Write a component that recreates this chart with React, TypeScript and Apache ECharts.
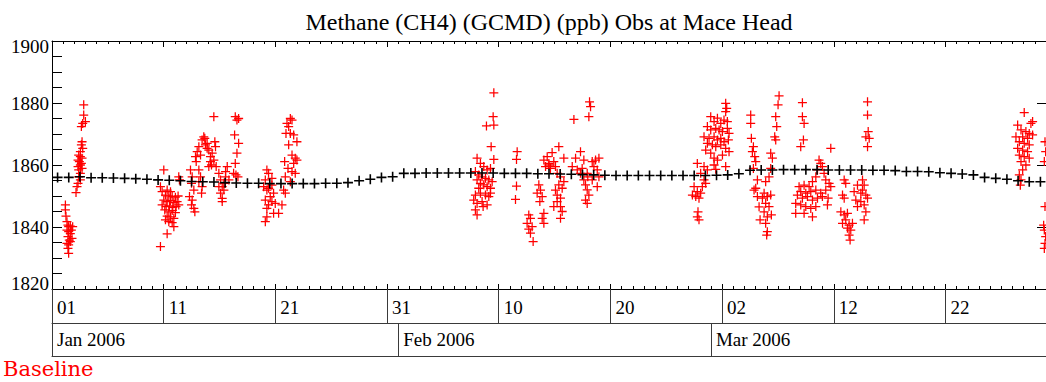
import React, { useEffect, useRef } from 'react';
import * as echarts from 'echarts';

// ---- text ----
const TITLE = 'Methane (CH4) (GCMD) (ppb) Obs at Mace Head';
const SERIES_LABEL = 'Baseline';
const MONTH_NAMES = ['Jan', 'Feb', 'Mar', 'Apr', 'May', 'Jun', 'Jul', 'Aug', 'Sep', 'Oct', 'Nov', 'Dec'];

// ---- axes (x in days since 2006-01-01 00:00 UTC) ----
const START_UTC = Date.UTC(2006, 0, 1);
const DAY_MS = 86400000;
const X_MIN_DAY = 0;
const X_MAX_DAY = 89;
const dayTicks = [0, 10, 20, 30, 40, 50, 60, 70, 80];
const monthStarts = [0, 31, 59];
const Y_MIN = 1820;
const Y_MAX = 1900;
const Y_STEP = 20;

// ---- daily baseline (ppb), one value per day, plotted at noon ----
const baselineDaily = [
  1856.0, 1856.0, 1856.2, 1855.9, 1855.9, 1855.8, 1855.7, 1855.6, 1855.4, 1855.2,
  1855.1, 1854.9, 1854.7, 1854.6, 1854.5, 1854.3, 1854.2, 1854.1, 1854.1, 1854.0,
  1854.0, 1854.0, 1854.0, 1854.0, 1854.1, 1854.1, 1854.3, 1854.9, 1855.4, 1856.0,
  1856.2, 1857.3, 1857.3, 1857.4, 1857.4, 1857.4, 1857.4, 1857.4, 1857.4, 1857.4,
  1857.3, 1857.3, 1857.3, 1857.2, 1857.2, 1857.1, 1857.0, 1856.9, 1856.8, 1856.7,
  1856.6, 1856.6, 1856.6, 1856.6, 1856.6, 1856.6, 1856.6, 1856.6, 1856.6, 1856.7,
  1856.8, 1857.2, 1858.3, 1858.4, 1858.4, 1858.5, 1858.5, 1858.5, 1858.5, 1858.4,
  1858.4, 1858.4, 1858.4, 1858.3, 1858.3, 1858.2, 1857.9, 1857.9, 1857.8, 1857.5,
  1857.3, 1857.1, 1856.8, 1856.0, 1855.7, 1855.4, 1854.9, 1854.6, 1854.6,
];

// ---- in-situ observations [day, ppb], grouped by pollution episode ----
const obsJan01 = [
  [1.20, 1847.1], [1.20, 1845.5], [1.25, 1843.5], [1.34, 1841.7], [1.43, 1840.6], [1.49, 1840.1],
  [1.64, 1840.3], [1.34, 1839.0], [1.49, 1838.5], [1.64, 1837.9], [1.73, 1839.0], [1.43, 1836.9],
  [1.55, 1835.8], [1.64, 1835.3], [1.34, 1834.7], [1.49, 1834.2], [1.43, 1833.1], [1.49, 1831.5],
  [1.79, 1836.3], [1.85, 1840.1],
];
const obsJan03 = [
  [2.84, 1879.4], [2.84, 1876.1], [2.99, 1874.0], [2.75, 1873.4], [2.63, 1872.4], [2.69, 1867.5],
  [2.63, 1866.5], [2.75, 1865.4], [2.54, 1864.3], [2.39, 1863.2], [2.54, 1862.7], [2.69, 1862.2],
  [2.33, 1861.6], [2.45, 1861.1], [2.63, 1860.5], [2.54, 1860.0], [2.33, 1859.5], [2.69, 1858.9],
  [2.39, 1858.4], [2.54, 1857.3], [2.39, 1856.2], [2.54, 1855.2], [2.33, 1854.1], [2.24, 1853.0],
  [2.15, 1851.1],
];
const obsJan10 = [
  [10.01, 1858.4], [9.71, 1853.0], [9.86, 1851.4], [10.31, 1851.9], [10.61, 1851.4], [10.16, 1850.3],
  [10.46, 1850.0], [10.76, 1849.8], [11.05, 1849.6], [11.29, 1850.0], [10.01, 1848.7], [10.31, 1848.2],
  [10.61, 1848.5], [10.91, 1847.9], [11.20, 1848.2], [9.86, 1847.1], [10.22, 1846.6], [10.52, 1846.8],
  [10.82, 1846.3], [11.11, 1846.6], [11.35, 1847.1], [10.10, 1845.5], [10.46, 1844.9], [10.76, 1845.3],
  [11.05, 1844.6], [10.31, 1843.5], [10.61, 1843.3], [10.91, 1842.8], [10.16, 1842.3], [10.46, 1841.7],
  [10.76, 1841.4], [10.91, 1840.1], [10.31, 1837.8], [9.71, 1833.7], [11.35, 1856.2], [11.41, 1855.2],
];
const obsJan12 = [
  [12.40, 1858.4], [12.55, 1856.2], [12.49, 1854.1], [12.70, 1851.9], [12.31, 1849.8], [12.55, 1848.7],
  [12.49, 1847.1], [12.70, 1846.0], [12.79, 1844.9], [12.85, 1862.7], [13.00, 1864.3], [12.91, 1861.1],
  [13.15, 1858.4], [13.30, 1856.2], [13.15, 1854.6], [13.44, 1853.0], [13.39, 1850.9], [13.59, 1869.1],
  [13.44, 1868.1], [13.68, 1868.6], [13.74, 1866.5], [13.15, 1865.9], [13.30, 1863.2],
  [13.89, 1867.0], [14.04, 1864.8], [14.19, 1862.7], [14.34, 1863.8], [14.49, 1861.6], [14.58, 1867.5],
  [14.28, 1860.0], [14.04, 1859.5], [14.64, 1865.9], [14.70, 1859.5], [14.49, 1875.6], [13.89, 1865.4],
  [14.19, 1861.1],
  [14.94, 1857.3], [15.09, 1855.2], [15.24, 1853.0], [15.39, 1851.9], [15.09, 1850.9], [15.24, 1849.2],
  [15.54, 1856.2], [15.69, 1859.5], [15.54, 1857.9], [15.39, 1854.1], [15.84, 1855.2], [15.24, 1848.2],
  [14.94, 1853.0],
];
const obsJan17 = [
  [16.41, 1875.6], [16.71, 1875.0], [16.56, 1874.5], [16.35, 1869.7], [16.71, 1867.0], [16.56, 1863.8],
  [16.41, 1860.5], [16.47, 1856.8], [16.65, 1856.2], [16.26, 1857.3],
];
const obsJan19 = [
  [19.24, 1858.4], [19.39, 1857.3], [19.10, 1855.2], [19.69, 1855.7], [18.95, 1853.0], [19.39, 1852.5],
  [19.24, 1851.9], [19.84, 1850.9], [19.54, 1849.8], [19.10, 1848.7], [19.69, 1848.2], [19.39, 1847.1],
  [19.24, 1846.0], [19.99, 1847.6], [20.59, 1847.1], [20.29, 1844.4], [19.84, 1844.4], [19.24, 1843.3],
  [19.10, 1841.7], [20.89, 1850.9], [19.69, 1853.5],
  [21.34, 1875.0], [21.49, 1874.5], [21.04, 1873.4], [21.19, 1872.4], [20.95, 1870.2], [21.34, 1870.2],
  [21.64, 1869.7], [21.93, 1867.5], [21.19, 1866.5], [21.49, 1863.2], [21.78, 1862.2], [21.64, 1860.5],
  [21.93, 1861.6], [20.83, 1861.1], [21.13, 1858.9], [21.49, 1857.9], [21.78, 1857.3], [20.89, 1856.2],
  [21.34, 1854.6], [20.74, 1851.9],
];
const obsFeb07 = [
  [39.56, 1883.3], [39.50, 1875.6], [38.90, 1872.6], [39.56, 1872.9], [39.32, 1865.9], [39.56, 1861.8],
  [38.06, 1862.2], [38.36, 1860.5], [38.66, 1859.5], [38.96, 1858.4], [39.26, 1858.9], [37.91, 1857.9],
  [38.21, 1856.8], [38.51, 1856.2], [38.81, 1855.7], [39.11, 1855.2], [39.41, 1854.6], [38.06, 1855.2],
  [38.36, 1854.1], [38.66, 1853.6], [38.96, 1853.0], [39.26, 1852.5], [38.21, 1852.5], [37.91, 1850.3],
  [38.36, 1850.9], [38.81, 1850.3], [39.11, 1849.8], [37.76, 1848.7], [38.06, 1847.6], [38.51, 1848.2],
  [38.96, 1847.1], [37.91, 1845.5], [38.06, 1843.9], [38.60, 1846.6], [39.26, 1850.9],
];
const obsFeb10 = [
  [41.65, 1864.3], [41.59, 1861.8], [41.59, 1853.2], [41.50, 1848.9],
  [42.69, 1843.9], [42.84, 1842.8], [42.54, 1841.2], [42.99, 1840.1], [42.69, 1839.3], [42.84, 1838.0],
  [43.08, 1835.3], [44.04, 1844.4], [43.89, 1842.8], [44.04, 1841.2], [43.59, 1853.6], [43.74, 1851.9],
  [43.89, 1849.8], [43.68, 1848.2], [43.44, 1850.9],
];
const obsFeb13 = [
  [45.38, 1865.9], [44.78, 1864.0], [44.34, 1862.7], [44.04, 1861.6], [44.49, 1860.5], [44.93, 1861.1],
  [44.19, 1859.5], [44.63, 1858.9], [45.08, 1859.5], [45.83, 1862.2], [45.23, 1857.3], [45.53, 1856.2],
  [45.83, 1854.6], [45.38, 1853.6], [45.08, 1851.9], [45.68, 1852.5], [45.23, 1850.3], [45.53, 1849.3],
  [45.23, 1848.2], [44.93, 1846.6], [45.53, 1846.6], [45.68, 1845.0], [45.53, 1842.8], [44.49, 1860.0],
  [46.73, 1874.7], [48.13, 1880.4], [48.22, 1878.8], [48.07, 1875.6], [47.32, 1864.3], [47.62, 1861.6],
  [46.88, 1862.2], [46.58, 1859.5], [47.03, 1858.4], [47.47, 1858.9], [47.92, 1857.3], [48.37, 1861.1],
  [48.67, 1861.6], [48.97, 1862.2], [48.52, 1859.5], [48.82, 1858.4], [47.97, 1856.2], [48.37, 1855.2],
  [47.62, 1855.2], [47.77, 1853.6], [47.92, 1852.0], [48.07, 1850.3], [47.77, 1848.7], [47.92, 1847.6],
  [48.82, 1853.0], [47.32, 1857.3], [48.97, 1856.2],
];
const obsFeb26 = [
  [57.49, 1853.0], [57.78, 1851.4], [57.34, 1850.3], [57.64, 1849.8], [58.08, 1850.9], [57.93, 1849.3],
  [58.38, 1855.2], [58.23, 1853.0], [58.53, 1854.1], [58.08, 1857.3], [58.38, 1859.5], [57.78, 1860.5],
  [58.68, 1858.4], [57.84, 1844.9], [57.78, 1843.3], [57.93, 1842.3],
  [60.32, 1879.9], [60.41, 1878.3], [60.32, 1877.2], [58.98, 1875.6], [59.28, 1874.0], [59.58, 1875.1],
  [59.88, 1873.4], [60.17, 1874.5], [60.47, 1874.0], [58.68, 1872.4], [58.98, 1871.3], [59.43, 1871.8],
  [59.73, 1871.3], [60.03, 1870.8], [60.47, 1871.8], [60.62, 1870.2], [58.38, 1869.1], [58.83, 1868.6],
  [59.28, 1869.1], [59.58, 1868.1], [59.88, 1868.6], [60.17, 1867.5], [60.56, 1868.1], [58.68, 1867.0],
  [59.13, 1866.5], [59.43, 1865.9], [59.88, 1866.5], [60.32, 1865.4], [60.62, 1864.3], [58.53, 1864.8],
  [58.98, 1863.8], [59.28, 1862.2], [59.58, 1861.6], [60.03, 1863.2], [59.28, 1860.0], [60.32, 1859.5],
  [59.43, 1858.6],
];
const obsMar03 = [
  [62.56, 1876.1], [62.56, 1873.4], [62.62, 1868.6], [62.80, 1865.9], [62.71, 1864.3], [62.92, 1862.7],
  [63.01, 1861.1], [62.80, 1858.9], [62.86, 1851.9], [63.16, 1849.8], [63.31, 1846.5], [63.40, 1842.3],
  [65.10, 1882.3], [65.01, 1879.4], [64.80, 1875.6], [64.89, 1872.4], [64.71, 1869.1], [64.80, 1868.1],
  [64.35, 1863.8], [64.50, 1862.2], [64.35, 1858.9], [64.20, 1856.2], [63.90, 1854.6], [63.76, 1850.9],
  [64.05, 1849.8], [63.61, 1849.3], [64.35, 1850.3], [63.90, 1847.6], [64.20, 1846.6], [63.76, 1844.9],
  [64.05, 1843.3], [64.41, 1843.9], [63.90, 1841.2], [64.05, 1838.5], [63.99, 1837.4], [63.01, 1852.5],
  [63.16, 1855.2],
];
const obsMar06 = [
  [67.19, 1880.1], [67.19, 1875.6], [67.34, 1873.4], [67.28, 1868.1], [67.04, 1865.9],
  [68.68, 1861.6], [68.83, 1860.5], [68.98, 1859.5], [68.54, 1858.4], [69.13, 1857.3], [68.39, 1856.2],
  [69.28, 1855.2], [69.58, 1854.1], [68.09, 1854.6], [67.79, 1853.0], [67.34, 1853.5], [66.89, 1853.0],
  [67.04, 1851.4], [67.49, 1850.9], [67.94, 1851.4], [68.39, 1851.9], [68.83, 1850.9], [69.28, 1851.9],
  [69.73, 1853.0], [66.74, 1850.3], [67.19, 1849.3], [67.64, 1849.8], [68.09, 1848.7], [68.54, 1849.3],
  [68.98, 1849.8], [69.49, 1849.3], [66.59, 1847.6], [67.04, 1847.1], [67.49, 1846.6], [67.94, 1846.0],
  [68.39, 1846.6], [69.43, 1847.1], [66.59, 1844.4], [67.34, 1844.4], [68.09, 1843.3], [69.73, 1865.4],
];
const obsMar10 = [
  [70.93, 1855.2], [71.07, 1854.1], [70.78, 1850.3], [70.93, 1849.3], [70.63, 1844.9], [70.93, 1843.9],
  [71.22, 1844.4], [71.07, 1842.3], [70.78, 1841.2], [71.37, 1840.6], [71.22, 1839.6], [71.52, 1839.0],
  [71.37, 1837.4], [71.46, 1835.8], [71.67, 1841.2],
  [73.02, 1880.4], [73.02, 1876.1], [73.08, 1870.8], [72.87, 1869.1], [73.17, 1868.6], [73.02, 1865.9],
  [72.57, 1855.2], [72.72, 1853.5], [72.12, 1853.5], [71.82, 1851.4], [72.42, 1850.9], [72.87, 1850.3],
  [71.97, 1848.7], [72.42, 1848.2], [72.72, 1847.1], [72.12, 1846.6], [72.87, 1844.9], [72.72, 1842.3],
  [73.02, 1849.3], [72.57, 1851.9],
];
const obsMar27 = [
  [87.05, 1876.9], [87.80, 1874.0], [87.65, 1873.4], [86.46, 1872.9], [86.76, 1871.3], [87.20, 1870.8],
  [87.50, 1870.2], [86.31, 1869.1], [86.91, 1869.1], [87.35, 1868.6], [87.80, 1869.7], [86.61, 1867.5],
  [87.05, 1867.0], [87.50, 1866.5], [86.46, 1865.4], [86.91, 1864.8], [87.35, 1864.3], [86.61, 1863.2],
  [87.05, 1862.7], [87.50, 1862.2], [86.76, 1861.1], [87.20, 1860.0], [86.91, 1858.4], [86.61, 1856.8],
  [86.76, 1855.2], [86.70, 1853.5],
  [88.91, 1867.5], [88.97, 1864.3], [88.85, 1861.1], [88.91, 1846.6], [88.79, 1840.6], [88.85, 1839.0],
  [88.97, 1836.9], [88.91, 1834.7], [88.85, 1833.1],
];

// ---- styling ----
const SERIF = '"Liberation Serif", "Times New Roman", serif';
const LABEL_SERIF = '"DejaVu Serif", serif';
const INK = '#000000';
const BOX = '#3a3a3a';
const OBS_RED = '#ff0000';
const PLUS_THIN = 'path://M0,4.3H10V5.7H0ZM4.3,0H5.7V10H4.3Z';
const PLUS_BOLD = 'path://M0,4.2H10V5.8H0ZM4.2,0H5.8V10H4.2Z';

const dayToDate = (d: number) => new Date(START_UTC + d * DAY_MS);
const dayLabel = (d: number) => String(dayToDate(d).getUTCDate()).padStart(2, '0');
const monthLabel = (d: number) => {
  const dt = dayToDate(d);
  return `${MONTH_NAMES[dt.getUTCMonth()]} ${dt.getUTCFullYear()}`;
};

const hiddenLabel = { show: false };
const noSplit = { show: false };

function buildOption(): echarts.EChartsOption {
  const observations = [
    ...obsJan01, ...obsJan03, ...obsJan10, ...obsJan12, ...obsJan17, ...obsJan19,
    ...obsFeb07, ...obsFeb10, ...obsFeb13, ...obsFeb26,
    ...obsMar03, ...obsMar06, ...obsMar10, ...obsMar27,
  ];
  const baseline = baselineDaily.map((v, i) => [i + 0.5, v]);

  const xBase = {
    type: 'value' as const,
    min: X_MIN_DAY,
    max: X_MAX_DAY,
    splitLine: noSplit,
  };

  return {
    animation: false,
    backgroundColor: '#ffffff',
    grid: { left: 52, right: 0, top: 41, bottom: 93, outerBoundsMode: 'none' } as any,
    xAxis: [
      // main bottom axis: line + daily minor ticks pointing in
      {
        ...xBase, position: 'bottom', interval: 1,
        axisLine: { show: true, onZero: false, lineStyle: { color: INK, width: 1 } },
        axisTick: { show: true, inside: true, length: 3, lineStyle: { color: INK, width: 1 } },
        axisLabel: hiddenLabel,
      },
      // 10-day dividers down through the day row, with day-of-month labels
      {
        ...xBase, position: 'bottom',
        axisLine: { show: false, onZero: false },
        axisTick: { show: true, inside: false, length: 34, customValues: dayTicks, lineStyle: { color: BOX, width: 1 } },
        axisLabel: {
          show: true, customValues: dayTicks, formatter: (v: number) => dayLabel(v),
          align: 'left', verticalAlign: 'top', margin: 9, padding: [0, 0, 0, 5],
          color: INK, fontFamily: SERIF, fontSize: 19,
        },
      },
      // 10-day major ticks poking into the plot
      {
        ...xBase, position: 'bottom',
        axisLine: { show: false, onZero: false },
        axisTick: { show: true, inside: true, length: 5, customValues: dayTicks, lineStyle: { color: INK, width: 1 } },
        axisLabel: hiddenLabel,
      },
      // month row
      {
        ...xBase, position: 'bottom', offset: 34,
        axisLine: { show: true, onZero: false, lineStyle: { color: BOX, width: 1 } },
        axisTick: { show: true, inside: false, length: 33, customValues: monthStarts, lineStyle: { color: BOX, width: 1 } },
        axisLabel: {
          show: true, customValues: monthStarts, formatter: (v: number) => monthLabel(v),
          align: 'left', verticalAlign: 'top', margin: 7, padding: [0, 0, 0, 5],
          color: INK, fontFamily: SERIF, fontSize: 19,
        },
      },
      // bottom rule of the month row
      {
        ...xBase, position: 'bottom', offset: 67,
        axisLine: { show: true, onZero: false, lineStyle: { color: BOX, width: 1 } },
        axisTick: { show: false },
        axisLabel: hiddenLabel,
      },
      // top frame with daily ticks
      {
        ...xBase, position: 'top', interval: 1,
        axisLine: { show: true, onZero: false, lineStyle: { color: INK, width: 1 } },
        axisTick: { show: true, inside: true, length: 3, lineStyle: { color: INK, width: 1 } },
        axisLabel: hiddenLabel,
      },
      {
        ...xBase, position: 'top',
        axisLine: { show: false, onZero: false },
        axisTick: { show: true, inside: true, length: 6, customValues: dayTicks, lineStyle: { color: INK, width: 1 } },
        axisLabel: hiddenLabel,
      },
    ],
    yAxis: [
      {
        type: 'value', position: 'left', min: Y_MIN, max: Y_MAX, interval: Y_STEP,
        axisLine: { show: true, onZero: false, lineStyle: { color: INK, width: 1 } },
        axisTick: { show: true, inside: true, length: 10, lineStyle: { color: INK, width: 1 } },
        minorTick: { show: true, splitNumber: 4, length: 10, lineStyle: { color: INK, width: 1 } },
        splitLine: noSplit,
        axisLabel: {
          show: true, margin: 3, color: INK, fontFamily: SERIF, fontSize: 19,
          formatter: (v: number) => (v === Y_MAX ? `{hi|${v}}` : v === Y_MIN ? `{lo|${v}}` : String(v)),
          rich: {
            hi: { padding: [10, 0, 0, 0], color: INK, fontFamily: SERIF, fontSize: 19 },
            lo: { padding: [0, 0, 12, 0], color: INK, fontFamily: SERIF, fontSize: 19 },
          },
        },
      },
      {
        type: 'value', position: 'right', min: Y_MIN, max: Y_MAX, interval: Y_STEP,
        axisLine: { show: true, onZero: false, lineStyle: { color: INK, width: 1 } },
        axisTick: { show: true, inside: true, length: 9, lineStyle: { color: INK, width: 1 } },
        splitLine: noSplit,
        axisLabel: hiddenLabel,
      },
    ],
    series: [
      {
        name: 'Observations', type: 'scatter', xAxisIndex: 0, yAxisIndex: 0,
        data: observations, symbol: PLUS_THIN, symbolSize: 9,
        itemStyle: { color: OBS_RED, opacity: 1 },
        emphasis: { disabled: true }, z: 2,
      },
      {
        name: SERIES_LABEL, type: 'scatter', xAxisIndex: 0, yAxisIndex: 0,
        data: baseline, symbol: PLUS_BOLD, symbolSize: 10,
        itemStyle: { color: INK, opacity: 1 },
        emphasis: { disabled: true }, z: 3,
      },
    ],
    graphic: [
      {
        type: 'text', x: 549, y: 22, silent: true,
        style: { text: TITLE, fill: INK, fontFamily: SERIF, fontSize: 24, align: 'center', verticalAlign: 'middle' },
      },
      {
        type: 'text', x: 3, y: 369, silent: true,
        style: { text: SERIES_LABEL, fill: OBS_RED, fontFamily: LABEL_SERIF, fontSize: 21, align: 'left', verticalAlign: 'middle' },
      },
    ],
  } as echarts.EChartsOption;
}

export default function App() {
  const ref = useRef<HTMLDivElement>(null);

  useEffect(() => {
    if (!ref.current) return;
    const chart = echarts.init(ref.current, undefined, { renderer: 'svg' });
    chart.setOption(buildOption());
    return () => chart.dispose();
  }, []);

  return (
    <div
      ref={ref}
      style={{ position: 'absolute', left: 0, top: 0, width: 1046, height: 382, background: '#ffffff' }}
    />
  );
}
